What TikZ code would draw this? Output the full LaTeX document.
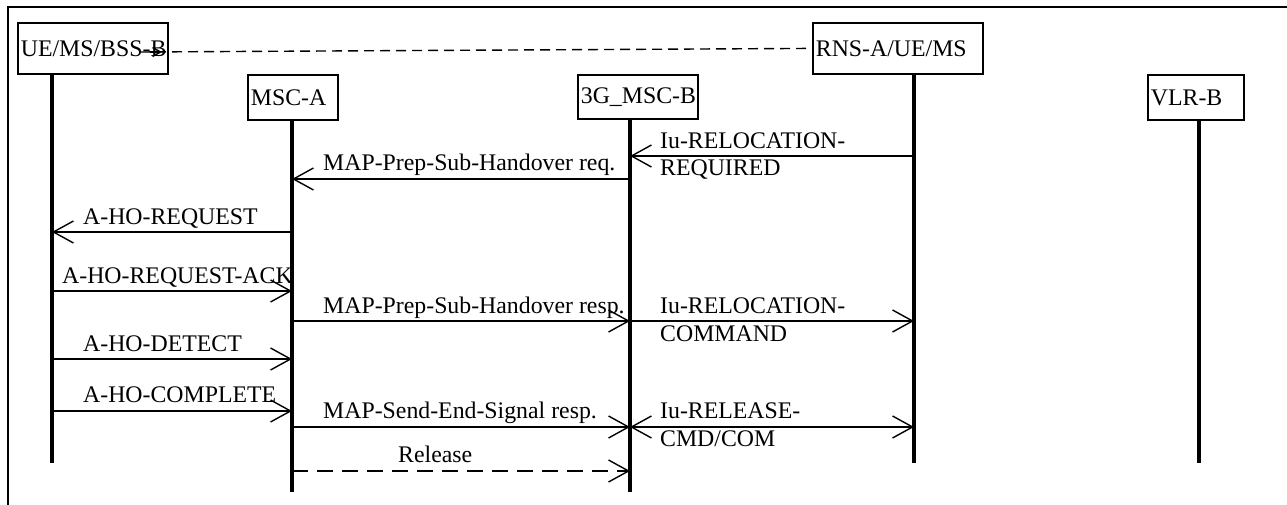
\documentclass[tikz,border=0pt]{standalone}
\usepackage{fontspec}
\setmainfont{Liberation Serif}
\usepackage{tikz}
\usetikzlibrary{arrows.meta}
\exhyphenpenalty=10000

\begin{document}
\begin{tikzpicture}[x=1pt,y=-1pt,font=\fontsize{23.8}{28}\selectfont,
>={Straight Barb[length=20pt,width=22pt,line width=1.4pt]},
ent/.style 2 args={draw,line width=1.8pt,rectangle,anchor=north west,inner xsep=3pt,inner ysep=0pt,text width=#1-7pt,minimum height=#2,align=left},
life/.style={line width=3.5pt},
msg/.style={line width=1.4pt,->},
lbl/.style={anchor=base west,inner sep=0pt,align=left}]
\useasboundingbox (0,0) rectangle (1287,505);
\draw[line width=1.8pt] (8,505) -- (8,7) -- (1287,7);
% entities
\node[ent={151}{51}] (ue) at (17,22) {UE/MS/BSS-B};
\node[ent={91}{45}] (msca) at (247,74) {MSC-A};
\node[ent={121}{44}] (mscb) at (577,74) {3G\_MSC-B};
\node[ent={171}{51}] (rns) at (812,22) {RNS-A/UE/MS};
\node[ent={97}{45}] (vlr) at (1147,74) {VLR-B};
\draw[line width=1.4pt,dash pattern=on 10pt off 6pt] (140,52) -- (rns.west);
\draw[line width=1.4pt,-{Straight Barb[length=8pt,width=9pt]}] (150,52) -- (162,52);
\foreach \n/\x/\y in %
{ue/52/463,msca/292/492,mscb/630/492,rns/914/463,vlr/1199/463} {
   \coordinate (\n-ll) at (\x,\y);
   \draw[life] (\n.south -| \n-ll) -- (\n-ll);
}
% messages
\draw[msg] (rns-ll |- 0,156) -- (mscb-ll |- 0,156);
\node[lbl] at (660,176) {Iu-RELOCATION-\\REQUIRED};
\draw[msg] (mscb-ll |- 0,179) -- (msca-ll |- 0,179);
\node[lbl] at (323,171) {MAP-Prep-Sub-Handover req.};
\draw[msg] (msca-ll |- 0,232) -- (ue-ll |- 0,232);
\node[lbl] at (83,224) {A-HO-REQUEST};
\draw[msg] (ue-ll |- 0,291) -- (msca-ll |- 0,291);
\node[lbl] at (62,283) {A-HO-REQUEST-ACK};
\draw[msg] (msca-ll |- 0,321) -- (mscb-ll |- 0,321);
\node[lbl] at (323,313) {MAP-Prep-Sub-Handover resp.};
\draw[msg] (mscb-ll |- 0,321) -- (rns-ll |- 0,321);
\node[lbl] at (660,341) {Iu-RELOCATION-\\COMMAND};
\draw[msg] (ue-ll |- 0,359) -- (msca-ll |- 0,359);
\node[lbl] at (83,351) {A-HO-DETECT};
\draw[msg] (ue-ll |- 0,411) -- (msca-ll |- 0,411);
\node[lbl] at (83,402) {A-HO-COMPLETE};
\draw[msg] (msca-ll |- 0,427) -- (mscb-ll |- 0,427);
\node[lbl] at (323,418) {MAP-Send-End-Signal resp.};
\draw[msg,<->] (mscb-ll |- 0,427) -- (rns-ll |- 0,427);
\node[lbl] at (660,446) {Iu-RELEASE-\\CMD/COM};
\draw[msg,dash pattern=on 16pt off 9pt] (msca-ll |- 0,471) -- (mscb-ll |- 0,471);
\node[lbl] at (398,462) {Release};
\end{tikzpicture}
\end{document}
